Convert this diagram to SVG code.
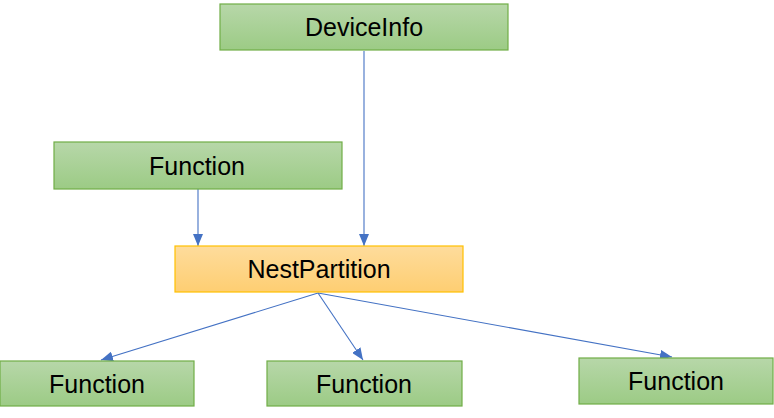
<svg xmlns="http://www.w3.org/2000/svg" width="774" height="418" viewBox="0 0 774 418">
<defs>
<linearGradient id="g" x1="0" y1="0" x2="0" y2="1"><stop offset="0" stop-color="#b7d7a9"/><stop offset="1" stop-color="#9ccb85"/></linearGradient>
<linearGradient id="o" x1="0" y1="0" x2="0" y2="1"><stop offset="0" stop-color="#fedc9c"/><stop offset="1" stop-color="#fece72"/></linearGradient>
<marker id="a" markerWidth="12" markerHeight="10" refX="12" refY="5" orient="auto" markerUnits="userSpaceOnUse"><path d="M0,0 L12,5 L0,10 Z" fill="#4472c4"/></marker>
<style>
.gn{fill:url(#g);stroke:#70ad47;stroke-width:1.2}
.or{fill:url(#o);stroke:#ffc000;stroke-width:1.2}
.t{font-family:"Liberation Sans",Arial,sans-serif;font-size:25px;fill:#000;text-anchor:middle}
.c{stroke:#4472c4;stroke-width:1.1;fill:none;marker-end:url(#a)}
</style>
</defs>
<g id="connectors">
<line class="c" x1="364" y1="51" x2="364" y2="246"/>
<line class="c" x1="198" y1="189" x2="198" y2="246"/>
<line class="c" x1="318" y1="293" x2="101" y2="360"/>
<line class="c" x1="318" y1="293" x2="363" y2="360"/>
<line class="c" x1="318" y1="293" x2="672" y2="357"/>
</g>
<g id="deviceinfo"><rect class="gn" x="220" y="4" width="288" height="46"/><text class="t" x="364" y="36">DeviceInfo</text></g>
<g id="function-top"><rect class="gn" x="54" y="142" width="288" height="47"/><text class="t" x="197" y="175">Function</text></g>
<g id="nestpartition"><rect class="or" x="175" y="246" width="288" height="46"/><text class="t" x="319" y="278">NestPartition</text></g>
<g id="function-1"><rect class="gn" x="0" y="361" width="194" height="45"/><text class="t" x="97" y="393">Function</text></g>
<g id="function-2"><rect class="gn" x="267" y="361" width="195" height="45"/><text class="t" x="364" y="393">Function</text></g>
<g id="function-3"><rect class="gn" x="579" y="358" width="194" height="46"/><text class="t" x="676" y="390">Function</text></g>
</svg>
